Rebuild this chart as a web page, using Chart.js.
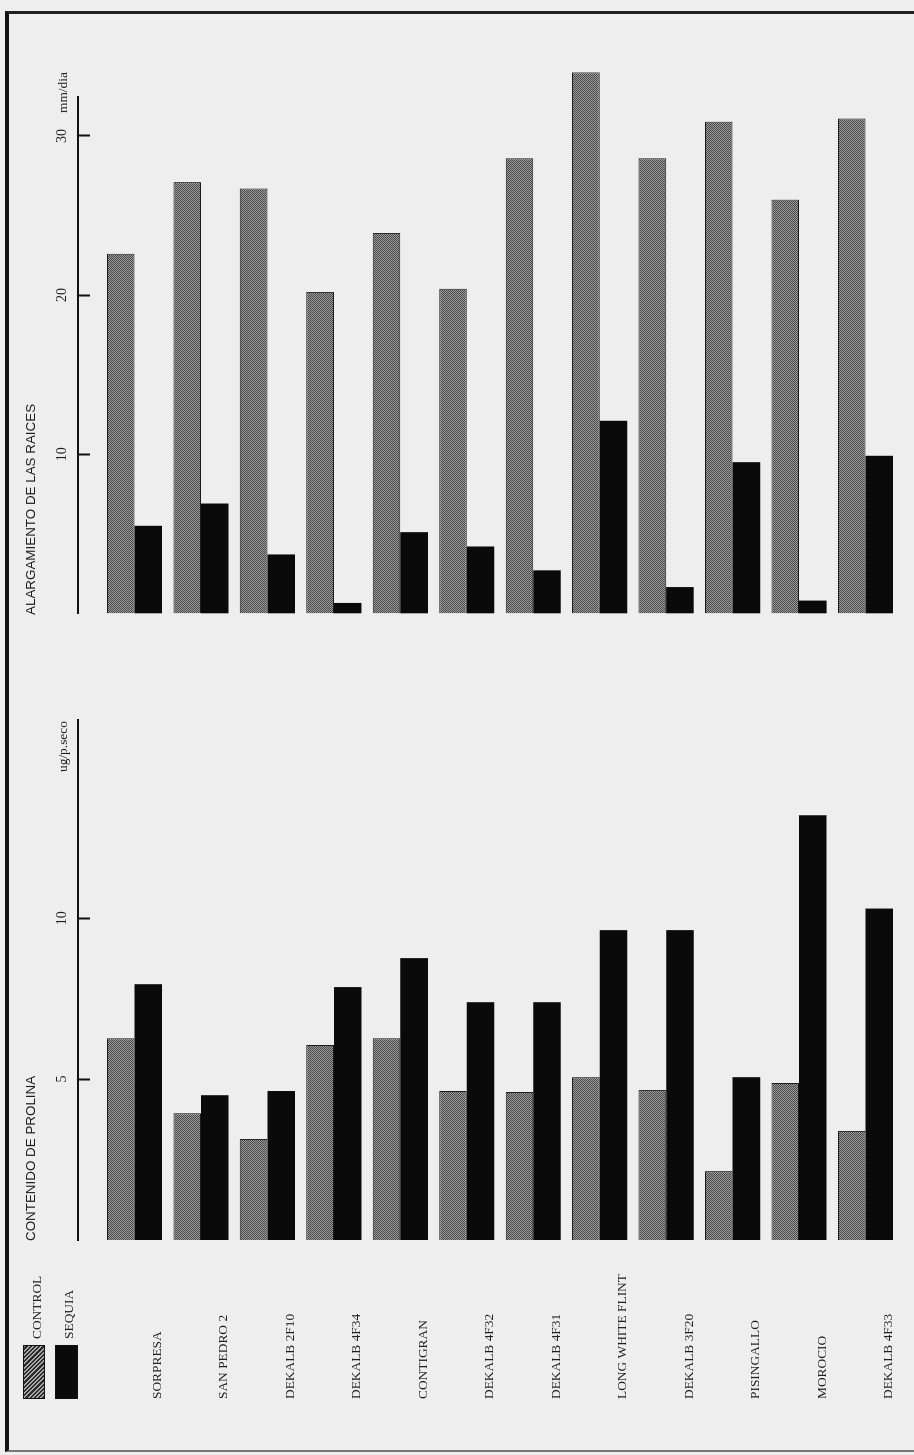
<!DOCTYPE html>
<html>
<head>
<meta charset="utf-8">
<script src="https://cdn.jsdelivr.net/npm/chart.js@4.4.1/dist/chart.umd.min.js"></script>
<style>
  html, body { margin: 0; padding: 0; background: #eeeeee; width: 914px; height: 1455px; overflow: hidden; }
  /* the figure is printed sideways: draw it landscape and turn it */
  #land { position: absolute; left: 0; top: 0; width: 1455px; height: 914px;
          transform-origin: 0 0; transform: translate(0, 1455px) rotate(-90deg); }
  #land canvas { position: absolute; top: 0; }
  #frame { position: absolute; left: 3px; top: 5px; width: 1441px; height: 1000px; box-sizing: border-box;
           border-top: 4px solid #111; border-right: 3px solid #222; border-left: 2px solid #777; }
  .t { position: absolute; white-space: nowrap; line-height: 14px; color: #1e1e1e; }
  .sans { font: 13.4px "Liberation Sans", Arial, sans-serif; }
  .serif { font: 13.4px "Liberation Serif", "Times New Roman", serif; }
  .sw { position: absolute; box-sizing: border-box; border: 1px solid #111; }
</style>
</head>
<body>
<div id="land">
  <div id="frame"></div>
  <canvas id="prolina" width="740" height="914" style="left:40px"></canvas>
  <canvas id="raices" width="620" height="914" style="left:800px"></canvas>

  <div class="t sans" style="left:214px; top:23px">CONTENIDO DE PROLINA</div>
  <div class="t sans" style="left:840px; top:23px">ALARGAMIENTO DE LAS RAICES</div>
  <div class="t serif" style="left:683px; top:55px">ug/p.seco</div>
  <div class="t serif" style="left:1342px; top:55px">mm/dia</div>

  <div class="sw" style="left:56px; top:23px; width:54px; height:22px;
       background: repeating-linear-gradient(45deg, #2a2a2a 0 1.5px, #a8a8a8 1.5px 3px);"></div>
  <div class="sw" style="left:56px; top:55px; width:54px; height:23px; background:#0a0a0a;"></div>
  <div class="t serif" style="left:116px; top:29px">CONTROL</div>
  <div class="t serif" style="left:116px; top:61px">SEQUIA</div>
</div>

<script>
const categories = ['SORPRESA', 'SAN PEDRO 2', 'DEKALB 2F10', 'DEKALB 4F34', 'CONTIGRAN', 'DEKALB 4F32',
                    'DEKALB 4F31', 'LONG WHITE FLINT', 'DEKALB 3F20', 'PISINGALLO', 'MOROCIO', 'DEKALB 4F33'];

// alargamiento de las raices (mm/dia)
const raicesControl = [22.6, 27.1, 26.7, 20.2, 23.9, 20.4, 28.6, 34.0, 28.6, 30.9, 26.0, 31.1];
const raicesSequia  = [5.5, 6.9, 3.7, 0.65, 5.1, 4.2, 2.7, 12.1, 1.65, 9.5, 0.8, 9.9];
const raicesTicks = [10, 20, 30];
const raicesMax = 32.45;

// contenido de prolina (ug/p.seco)
const prolinaControl = [6.27, 3.94, 3.14, 6.06, 6.27, 4.63, 4.6, 5.06, 4.66, 2.14, 4.88, 3.39];
const prolinaSequia  = [7.95, 4.5, 4.63, 7.86, 8.76, 7.39, 7.39, 9.63, 9.63, 5.06, 13.2, 10.3];
const prolinaTicks = [5, 10];
const prolinaMax = 16.16;

Chart.defaults.font.family = '"Liberation Serif", "Times New Roman", serif';
Chart.defaults.color = '#1e1e1e';

// halftone grey of the control bars
function dots() {
  const c = document.createElement('canvas');
  c.width = 2; c.height = 2;
  const g = c.getContext('2d');
  g.fillStyle = '#9a9a9a';
  g.fillRect(0, 0, 2, 2);
  g.fillStyle = '#4a4a4a';
  g.fillRect(0, 0, 1, 1);
  g.fillRect(1, 1, 1, 1);
  return g.createPattern(c, 'repeat');
}
const grayDots = dots();

function makeChart(id, control, sequia, ticks, max, showCats, pad) {
  return new Chart(document.getElementById(id), {
    type: 'bar',
    data: {
      labels: categories,
      datasets: [
        { label: 'CONTROL', data: control, backgroundColor: grayDots, borderColor: '#1a1a1a', borderWidth: 1,
          categoryPercentage: 0.83, barPercentage: 1.0, clip: false },
        { label: 'SEQUIA', data: sequia, backgroundColor: '#0a0a0a', borderWidth: 0,
          categoryPercentage: 0.83, barPercentage: 1.0, clip: false }
      ]
    },
    options: {
      indexAxis: 'y',
      responsive: false,
      animation: false,
      layout: { padding: pad },
      plugins: { legend: { display: false }, tooltip: { enabled: false } },
      scales: {
        x: {
          type: 'linear',
          position: { y: -0.85 },   // axis line sits a little before the first group
          min: 0,
          max: max,
          afterBuildTicks: s => { s.ticks = ticks.map(v => ({ value: v })); },
          afterFit: s => { s.height = 0; },
          grid: { drawOnChartArea: false, tickLength: 11, tickWidth: 2, tickColor: '#111' },
          border: { color: '#111', width: 2 },
          ticks: { padding: -35, font: { size: 14 }, color: '#1e1e1e' }
        },
        y: {
          type: 'category',
          display: showCats,
          grid: { display: false },
          border: { display: false },
          afterFit: s => { s.width = showCats ? 159 : 0; },
          ticks: { crossAlign: 'far', labelOffset: 23, autoSkip: false, font: { size: 13.4 }, color: '#1e1e1e' }
        }
      }
    }
  });
}

makeChart('prolina', prolinaControl, prolinaSequia, prolinaTicks, prolinaMax, true,
          { left: 16, right: 45, top: 101.3, bottom: 15.3 });
makeChart('raices', raicesControl, raicesSequia, raicesTicks, raicesMax, false,
          { left: 41.7, right: 62, top: 101.3, bottom: 15.3 });
</script>
</body>
</html>
